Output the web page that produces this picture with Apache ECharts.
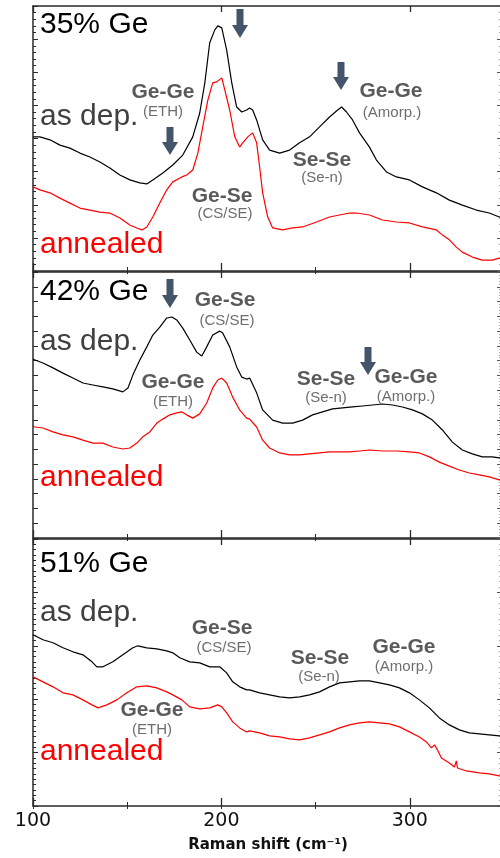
<!DOCTYPE html>
<html><head><meta charset="utf-8">
<script src="https://cdn.jsdelivr.net/npm/echarts@6/dist/echarts.min.js"></script>
<style>html,body{margin:0;padding:0;background:#fff}#c{width:500px;height:858px}</style>
</head><body><div id="c"></div>
<script>
// ---- Data: Raman shift (cm^-1) and intensity (a.u.) ----
const x35Dep = [100,103.7,109,114.3,119.6,124.9,130.2,135.5,140.8,146.1,151.4,156.7,160.4,163.6,168.9,174.2,179.5,184.8,188.5,191.2,193.8,196.5,198.1,200.2,202.8,205.5,208.1,210.8,213.4,215,216.6,218.7,221.9,225.6,230.9,236.2,241.5,246.8,252.1,257.4,261.7,263.8,266.4,269.6,273.3,278.6,282.3,287.6,292.9,299.8,306.7,314.1,321,327.9,335.3,342.2,347.5,350];
const y35Dep = [405,405,396,380,371,356,344,329,311,290,275,266,263,275,296,320,350,405,477,568,689,728,740,734,667,568,495,480,486,492,486,456,396,365,356,365,387,405,435,465,486,495,480,456,417,374,335,299,284,275,254,236,214,199,184,175,163,158];
const x35Ann = [100,103.7,109,114.3,119.6,124.9,130.2,135.5,140.8,146.1,151.4,155.1,157.8,160.4,163.6,167.3,171,174.2,179,181.6,184.8,187.5,190.1,192.8,195.4,197.5,200.2,201.8,204.4,207.1,209.7,211.3,214,215,216.6,218.7,220.3,221.9,224.6,227.2,232.5,237.8,243.1,250.5,257.4,262.7,268,271.7,278.6,285.5,292.9,299.8,306.7,314.1,317.3,321,324.7,327.9,333.2,338.5,343.8,347.5,350];
const y35Ann = [254,245,236,220,205,190,184,178,175,160,139,130,124,133,163,205,245,269,284,290,305,356,435,516,568,571,583,547,486,405,374,387,405,411,417,387,314,236,163,130,124,130,133,148,163,169,175,175,169,154,148,145,133,124,109,94,72,57,42,33,33,39,40];

const x42Dep = [100,101.1,105.3,110.6,115.9,121.2,126.5,131.8,137.1,142.4,147.7,150.4,153,156.7,160.4,163.6,167.3,171,173.7,176.3,179.5,183.2,186.9,189.6,192.2,195.4,199.1,200.7,204.4,208.1,210.8,213.4,215,218.7,221.9,227.2,232.5,237.8,243.1,248.4,253.7,259,264.3,269.6,274.9,280.2,285.5,290.8,296.1,301.4,306.7,312,317.3,322.6,327.9,333.2,338.5,343.8,347.5,350];
const y42Dep = [545,542,533,518,502,487,472,466,460,454,445,457,496,542,582,618,642,670,673,664,639,603,566,554,582,618,630,624,582,521,490,484,487,442,390,359,350,350,359,375,384,393,396,399,402,405,408,405,399,390,378,359,329,292,268,256,247,247,244,242];
const x42Ann = [100,101.1,105.3,110.6,115.9,121.2,126.5,131.8,137.1,142.4,147.7,151.4,155.1,158.3,162,165.7,168.9,172.6,176.3,179,181.6,184.8,188.5,192.2,195.4,198.1,200.2,202.8,206,209.7,213.4,215,218.7,221.9,225.6,230.9,236.2,241.5,246.8,252.1,257.4,262.7,268,273.3,278.6,285.5,292.9,299.8,305.1,310.4,315.7,321,326.3,331.6,336.9,342.2,347.5,350];
const y42Ann = [340,338,335,323,314,308,298,289,289,277,271,274,289,308,323,350,362,375,381,384,375,365,378,411,457,481,487,472,429,390,365,362,338,298,274,259,253,253,256,259,262,262,262,265,268,265,265,262,259,247,231,219,207,198,192,186,177,174];

const x51Dep = [100,105.3,110.6,115.9,121.2,126.5,131.3,133.9,137.1,142.4,147.7,153,155.7,160.4,165.7,171,174.2,177.9,183.2,188.5,193.8,199.1,202.8,206,209.7,213.4,215,220.3,225.6,230.9,236.2,241.5,246.8,252.1,257.4,262.7,268,273.3,278.6,283.9,289.2,294.5,299.8,305.1,310.4,315.7,321,326.3,331.6,336.9,342.2,347.5,350];
const y51Dep = [513,498,489,474,462,453,432,417,417,432,453,474,480,474,471,465,459,444,432,429,417,417,399,372,357,348,348,339,333,327,324,327,333,342,357,369,372,375,375,369,363,354,339,318,294,264,243,228,219,216,213,210,209];
const x51Ann = [100,105.3,110.6,115.9,121.2,126.5,131.3,134.5,139.2,144.5,149.8,155.1,160.4,165.7,171,174.2,179,183.2,188.5,193.8,198.1,200.2,202.8,206,209.7,213.4,215,220.3,225.6,230.9,236.2,241.5,246.8,252.1,257.4,262.7,268,273.3,278.6,283.9,289.2,294.5,299.8,305.1,308.8,311.5,313.1,314.7,316.8,321,323.7,324.7,325.3,330,336.9,342.2,347.5,350];
const y51Ann = [387,372,357,339,333,318,303,294,303,318,339,357,360,354,342,333,318,297,291,294,303,297,279,252,234,222,225,219,210,207,201,198,204,213,222,234,243,249,252,249,246,237,222,207,192,174,183,168,144,129,117,135,114,105,99,96,90,89];

const xTickLabels = [100, 200, 300];
const panelTitles = ['35% Ge', '42% Ge', '51% Ge'];
const axisTitle = 'Raman shift (cm\u207B\u00B9)';

// ---- Layout ----
const SANS = '"Liberation Sans", Arial, Helvetica, sans-serif';
const AX = '#2a2a2a';
const grids = [
  {left:33, top:6, width:471, height:265},
  {left:33, top:272, width:471, height:266},
  {left:33, top:539, width:471, height:267}
];
const yCfg = [
  {max:800, interval:100, minor:5},
  {max:810, interval:45, minor:0},
  {max:800, interval:160, minor:10}
];
const zip = (xs, ys) => xs.map((x, i) => [x, ys[i]]);
const panels = [
  [zip(x35Dep, y35Dep), zip(x35Ann, y35Ann)],
  [zip(x42Dep, y42Dep), zip(x42Ann, y42Ann)],
  [zip(x51Dep, y51Dep), zip(x51Ann, y51Ann)]
];

const xAxis = [], yAxis = [], series = [];
grids.forEach((g, i) => {
  const base = {gridIndex:i, type:'value', min:100, max:350, splitLine:{show:false}, axisLabel:{show:false}};
  xAxis.push(Object.assign({}, base, {position:'bottom', interval:100,
    axisLine:{show:true, onZero:false, lineStyle:{color:AX, width:1.5}},
    axisTick:{show:true, inside:true, length:8, lineStyle:{color:AX, width:1.3}},
    axisLabel:{show:i===2, margin:6, fontSize:19, fontFamily:'"DejaVu Sans", sans-serif', color:'#111',
      formatter: v => (xTickLabels.indexOf(v) >= 0 ? String(v) : '')}}));
  xAxis.push(Object.assign({}, base, {position:'bottom', interval:50,
    axisLine:{show:false}, axisTick:{show:true, inside:true, length:4, lineStyle:{color:AX, width:1}}}));
  xAxis.push(Object.assign({}, base, {position:'top', interval:100,
    axisLine:{show:true, onZero:false, lineStyle:{color:AX, width:1.5}},
    axisTick:{show:true, inside:true, length:6, lineStyle:{color:AX, width:1.3}}}));
  xAxis.push(Object.assign({}, base, {position:'top', interval:50,
    axisLine:{show:false}, axisTick:{show:true, inside:true, length:3, lineStyle:{color:AX, width:1}}}));
  const c = yCfg[i];
  const ybase = {gridIndex:i, type:'value', min:0, max:c.max, interval:c.interval, splitLine:{show:false}, axisLabel:{show:false}};
  yAxis.push(Object.assign({}, ybase, {position:'left',
    axisLine:{show:true, onZero:false, lineStyle:{color:AX, width:1.5}},
    axisTick:{show:true, inside:true, length:5, lineStyle:{color:AX, width:1}},
    minorTick:{show:c.minor>0, splitNumber:c.minor||5, length:3, lineStyle:{color:AX, width:1}}}));
  yAxis.push(Object.assign({}, ybase, {position:'right',
    axisLine:{show:true, onZero:false, lineStyle:{color:AX, width:1.5}},
    axisTick:{show:true, inside:true, length:7, lineStyle:{color:'#555', width:1}},
    minorTick:{show:true, splitNumber:c.minor||5, length:5, lineStyle:{color:'#aaa', width:1}}}));
  series.push({type:'line', xAxisIndex:4*i, yAxisIndex:2*i, data:panels[i][0], showSymbol:false, symbol:'none',
    lineStyle:{color:'#000', width:1.2}, silent:true});
  series.push({type:'line', xAxisIndex:4*i, yAxisIndex:2*i, data:panels[i][1], showSymbol:false, symbol:'none',
    lineStyle:{color:'#ff0000', width:1.2}, silent:true});
});

function label(text, x, y, size, color, weight, align) {
  return {type:'text', x:x, y:y, z:100, silent:true, style:{text:text, fontSize:size, fontFamily:SANS,
    fontWeight:weight||'normal', fill:color, align:align||'center', verticalAlign:'middle'}};
}
function arrow(cx, y0, y1) {
  const hw = 8, sw = 3.5, hl = 13;
  return {type:'polygon', z:100, silent:true, shape:{points:[[cx-sw,y0],[cx+sw,y0],[cx+sw,y1-hl],[cx+hw,y1-hl],[cx,y1],[cx-hw,y1-hl],[cx-sw,y1-hl]]},
    style:{fill:'#44546a'}};
}
const BOLDC = '#5a5a5a', SMALLC = '#6e6e6e', DEPC = '#404040', ANNC = '#ff0000';
const graphic = [
  // panel 1
  label(panelTitles[0], 40, 25, 30, '#000', 'normal', 'left'),
  label('as dep.', 40, 117, 30, DEPC, 'normal', 'left'),
  label('annealed', 40, 245, 30, ANNC, 'normal', 'left'),
  label('Ge-Ge', 163, 92, 21, BOLDC, 'bold'), label('(ETH)', 163, 112, 15, SMALLC),
  label('Ge-Se', 222, 196, 21, BOLDC, 'bold'), label('(CS/SE)', 225, 214, 15, SMALLC),
  label('Se-Se', 322, 160, 21, BOLDC, 'bold'), label('(Se-n)', 322, 178, 15, SMALLC),
  label('Ge-Ge', 391, 91, 21, BOLDC, 'bold'), label('(Amorp.)', 392, 113, 15, SMALLC),
  arrow(240, 9, 38), arrow(170, 127, 155), arrow(341, 62, 90),
  // panel 2
  label(panelTitles[1], 40, 292, 30, '#000', 'normal', 'left'),
  label('as dep.', 40, 342, 30, DEPC, 'normal', 'left'),
  label('annealed', 40, 478, 30, ANNC, 'normal', 'left'),
  label('Ge-Se', 225, 300, 21, BOLDC, 'bold'), label('(CS/SE)', 227, 321, 15, SMALLC),
  label('Ge-Ge', 173, 382, 21, BOLDC, 'bold'), label('(ETH)', 173, 402, 15, SMALLC),
  label('Se-Se', 326, 379, 21, BOLDC, 'bold'), label('(Se-n)', 326, 398, 15, SMALLC),
  label('Ge-Ge', 406, 377, 21, BOLDC, 'bold'), label('(Amorp.)', 406, 397, 15, SMALLC),
  arrow(170, 279, 308), arrow(368, 347, 375),
  // panel 3
  label(panelTitles[2], 40, 564, 30, '#000', 'normal', 'left'),
  label('as dep.', 40, 613, 30, DEPC, 'normal', 'left'),
  label('annealed', 40, 752, 30, ANNC, 'normal', 'left'),
  label('Ge-Se', 222, 628, 21, BOLDC, 'bold'), label('(CS/SE)', 224, 648, 15, SMALLC),
  label('Ge-Ge', 152, 710, 21, BOLDC, 'bold'), label('(ETH)', 152, 730, 15, SMALLC),
  label('Se-Se', 320, 658, 21, BOLDC, 'bold'), label('(Se-n)', 319, 677, 15, SMALLC),
  label('Ge-Ge', 404, 647, 21, BOLDC, 'bold'), label('(Amorp.)', 404, 667, 15, SMALLC),
  // axis title
  {type:'text', x:268, y:845, z:100, silent:true, style:{text:axisTitle, fontSize:15, fontFamily:'"DejaVu Sans", sans-serif',
    fontWeight:'bold', fill:'#111', align:'center', verticalAlign:'middle'}}
];

const chart = echarts.init(document.getElementById('c'), null, {renderer:'canvas'});
chart.setOption({
  animation:false,
  backgroundColor:'#fff',
  grid: grids.map(g => Object.assign({containLabel:false, outerBoundsMode:'none'}, g)),
  xAxis: xAxis,
  yAxis: yAxis,
  series: series,
  graphic: graphic
});
</script></body></html>
